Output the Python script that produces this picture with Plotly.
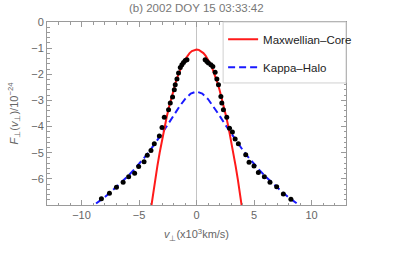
import plotly.graph_objects as go

# Measured data points (v_perp in 10^3 km/s, log10 F)
dots_v = [-8.87, -8.27, -7.57, -6.96, -6.38, -5.90, -5.38, -5.03, -4.56, -4.28, -3.96, -3.67,
          -3.23, -3.00, -2.80, -2.43, -2.28, -2.08, -1.93, -1.85, -1.70, -1.56, -1.41, -1.27,
          -1.13, -0.98, -0.83,
          0.75, 0.90, 1.04, 1.25, 1.42, 1.62, 1.77, 1.91, 2.12, 2.20, 2.34, 2.63, 2.87, 3.12,
          3.36, 3.64, 4.28, 4.57, 5.00, 5.38, 5.90, 6.39, 6.97, 7.55, 8.21, 8.85]
dots_f = [-7.04, -6.76, -6.55, -6.32, -6.13, -5.92, -5.79, -5.53, -5.35, -5.10, -4.92, -4.66,
          -4.36, -4.04, -3.64, -3.36, -3.10, -2.87, -2.59, -2.40, -2.18, -1.95, -1.74, -1.64,
          -1.55, -1.47, -1.44,
          -1.44, -1.51, -1.57, -1.64, -1.70, -1.92, -2.18, -2.40, -2.85, -3.10, -3.36, -3.64,
          -4.06, -4.21, -4.48, -4.66, -5.08, -5.36, -5.51, -5.76, -5.92, -6.13, -6.30, -6.58,
          -6.78, -7.03]

# Maxwellian core curve
core_v = [-4.2, -4.0, -3.8, -3.6, -3.4, -3.2, -3.0, -2.8, -2.6, -2.4, -2.2, -2.0, -1.8, -1.6,
          -1.4, -1.2, -1.0, -0.8, -0.6, -0.4, -0.2, 0.0, 0.2, 0.4, 0.6, 0.8, 1.0, 1.2, 1.4,
          1.6, 1.8, 2.0, 2.2, 2.4, 2.6, 2.8, 3.0, 3.2, 3.4, 3.6, 3.8, 4.0, 4.2]
core_f = [-7.841, -7.21, -6.609, -6.040, -5.501, -4.992, -4.515, -4.068, -3.653, -3.268,
          -2.913, -2.59, -2.297, -2.036, -1.805, -1.604, -1.435, -1.296, -1.189, -1.112,
          -1.065, -1.05, -1.065, -1.112, -1.189, -1.296, -1.435, -1.604, -1.805, -2.036,
          -2.297, -2.59, -2.913, -3.268, -3.653, -4.068, -4.515, -4.992, -5.501, -6.040,
          -6.609, -7.21, -7.841]

# Kappa halo curve
halo_v = [-9.5, -9.0, -8.5, -8.0, -7.5, -7.0, -6.5, -6.0, -5.5, -5.0, -4.5, -4.0, -3.5, -3.0,
          -2.5, -2.0, -1.5, -1.0, -0.5, 0.0, 0.5, 1.0, 1.5, 2.0, 2.5, 3.0, 3.5, 4.0, 4.5,
          5.0, 5.5, 6.0, 6.5, 7.0, 7.5, 8.0, 8.5, 9.0, 9.5]
halo_f = [-7.196, -7.040, -6.876, -6.704, -6.523, -6.330, -6.127, -5.910, -5.679, -5.433,
          -5.169, -4.886, -4.585, -4.263, -3.926, -3.580, -3.243, -2.947, -2.737, -2.66,
          -2.737, -2.947, -3.243, -3.580, -3.926, -4.263, -4.585, -4.886, -5.169, -5.433,
          -5.679, -5.910, -6.127, -6.330, -6.523, -6.704, -6.876, -7.040, -7.196]

x_ticks = [-10, -5, 0, 5, 10]
y_ticks = [0, -1, -2, -3, -4, -5, -6]

grey = "#666666"
frame = "#9a9a9a"
font = "Liberation Sans, Arial, sans-serif"

fig = go.Figure()
fig.add_trace(go.Scatter(x=halo_v, y=halo_f, mode="lines", name="Kappa\u2013Halo",
                         line=dict(color="#1a1aff", width=2, dash="7px,4px"),
                         legendgroup="b", legendrank=2))
fig.add_trace(go.Scatter(x=core_v, y=core_f, mode="lines", name="Maxwellian\u2013Core",
                         line=dict(color="#ff1a1a", width=2),
                         legendgroup="a", legendrank=1))
fig.add_trace(go.Scatter(x=dots_v, y=dots_f, mode="markers", showlegend=False,
                         marker=dict(color="black", size=5), cliponaxis=False))

axis_common = dict(
    showline=True, linecolor=frame, linewidth=1, mirror="ticks",
    ticks="inside", tickcolor=frame, ticklen=5, tickwidth=1,
    showgrid=False, automargin=False,
    tickfont=dict(family=font, size=11, color=grey),
)

fig.update_xaxes(range=[-13, 13], tickmode="array", tickvals=x_ticks,
                 zeroline=True, zerolinecolor="#c4c4c4", zerolinewidth=1,
                 minor=dict(dtick=1, tick0=0, ticks="inside", ticklen=2.5, tickcolor=frame),
                 title=dict(text="<i>v</i><sub>\u22a5</sub>(x10<sup>3</sup>km/s)",
                            font=dict(family=font, size=11, color=grey), standoff=10),
                 **axis_common)
fig.update_yaxes(range=[-7, 0], tickmode="array", tickvals=y_ticks, zeroline=False,
                 minor=dict(dtick=0.2, tick0=0, ticks="inside", ticklen=2.5, tickcolor=frame),
                 title=dict(text="<i>F</i><sub>\u22a5</sub>(<i>v</i><sub>\u22a5</sub>)/10<sup>\u221224</sup>",
                            font=dict(family=font, size=11, color=grey), standoff=10),
                 **axis_common)

fig.add_shape(type="rect", xref="paper", yref="paper", x0=0.589, x1=1.0, y0=0.667, y1=1.0,
              fillcolor="white", line=dict(color="#d0d0d0", width=1), layer="above")

fig.update_layout(
    width=409, height=256,
    margin=dict(l=47, r=63, t=22, b=51),
    paper_bgcolor="white", plot_bgcolor="white",
    title=dict(text="(b) 2002 DOY 15 03:33:42", x=0.48, xanchor="center", y=0.985, yanchor="top",
               font=dict(family=font, size=11.5, color="#777777")),
    showlegend=True,
    legend=dict(x=0.589, y=0.985, xanchor="left", yanchor="top", bgcolor="rgba(0,0,0,0)",
                borderwidth=0, traceorder="grouped", tracegroupgap=9,
                font=dict(family=font, size=11.5, color="#222222")),
)

fig.write_html("out.html", config={"displayModeBar": False},
               post_script="document.body.style.margin='0';")
